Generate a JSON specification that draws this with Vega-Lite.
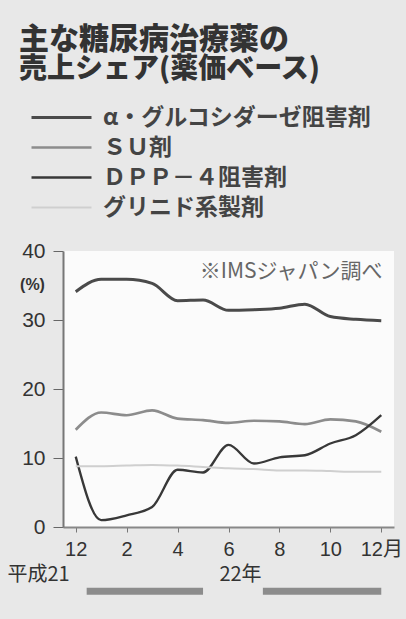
{
  "$schema": "https://vega.github.io/schema/vega-lite/v6.json",
  "width": 331,
  "height": 276,
  "autosize": {"type": "none"},
  "padding": {"left": 63, "top": 251, "right": 12, "bottom": 92},
  "background": "#e8e8e8",
  "config": {
    "view": {"fill": "#fbfbfb", "stroke": null},
    "font": "Noto Sans CJK JP",
    "legend": {
      "orient": "none",
      "legendX": -13,
      "legendY": -145,
      "title": null,
      "symbolType": "M-3,0H3",
      "symbolSize": 400,
      "labelFontSize": 23,
      "labelFont": "Noto Sans CJK JP",
      "labelFontWeight": "bold",
      "labelColor": "#444",
      "labelOffset": 30,
      "rowPadding": 6,
      "labelLimit": 400
    }
  },
  "title": {
    "text": "主な糖尿病治療薬の",
    "subtitle": "売上シェア(薬価ベース)",
    "anchor": "start",
    "frame": "group",
    "font": "Noto Sans CJK JP",
    "fontSize": 30,
    "fontWeight": 900,
    "color": "#333",
    "subtitleFont": "Noto Sans CJK JP",
    "subtitleFontSize": 28,
    "subtitleFontWeight": 900,
    "subtitleColor": "#333",
    "subtitlePadding": 1,
    "dx": -44,
    "offset": 22
  },
  "datasets": {
    "shares": [
      {"m": 0, "drug": "α・グルコシダーゼ阻害剤", "share": 34.1},
      {"m": 1, "drug": "α・グルコシダーゼ阻害剤", "share": 35.9},
      {"m": 2, "drug": "α・グルコシダーゼ阻害剤", "share": 35.9},
      {"m": 3, "drug": "α・グルコシダーゼ阻害剤", "share": 35.3},
      {"m": 4, "drug": "α・グルコシダーゼ阻害剤", "share": 32.8},
      {"m": 5, "drug": "α・グルコシダーゼ阻害剤", "share": 32.9},
      {"m": 6, "drug": "α・グルコシダーゼ阻害剤", "share": 31.4},
      {"m": 7, "drug": "α・グルコシダーゼ阻害剤", "share": 31.5},
      {"m": 8, "drug": "α・グルコシダーゼ阻害剤", "share": 31.7},
      {"m": 9, "drug": "α・グルコシダーゼ阻害剤", "share": 32.3},
      {"m": 10, "drug": "α・グルコシダーゼ阻害剤", "share": 30.5},
      {"m": 11, "drug": "α・グルコシダーゼ阻害剤", "share": 30.1},
      {"m": 12, "drug": "α・グルコシダーゼ阻害剤", "share": 29.9},
      {"m": 0, "drug": "ＳＵ剤", "share": 14.1},
      {"m": 1, "drug": "ＳＵ剤", "share": 16.6},
      {"m": 2, "drug": "ＳＵ剤", "share": 16.2},
      {"m": 3, "drug": "ＳＵ剤", "share": 16.9},
      {"m": 4, "drug": "ＳＵ剤", "share": 15.7},
      {"m": 5, "drug": "ＳＵ剤", "share": 15.5},
      {"m": 6, "drug": "ＳＵ剤", "share": 15.1},
      {"m": 7, "drug": "ＳＵ剤", "share": 15.4},
      {"m": 8, "drug": "ＳＵ剤", "share": 15.3},
      {"m": 9, "drug": "ＳＵ剤", "share": 14.9},
      {"m": 10, "drug": "ＳＵ剤", "share": 15.6},
      {"m": 11, "drug": "ＳＵ剤", "share": 15.3},
      {"m": 12, "drug": "ＳＵ剤", "share": 13.8},
      {"m": 0, "drug": "ＤＰＰ－４阻害剤", "share": 10.2},
      {"m": 1, "drug": "ＤＰＰ－４阻害剤", "share": 1.0},
      {"m": 2, "drug": "ＤＰＰ－４阻害剤", "share": 1.7},
      {"m": 3, "drug": "ＤＰＰ－４阻害剤", "share": 2.9},
      {"m": 4, "drug": "ＤＰＰ－４阻害剤", "share": 8.3},
      {"m": 5, "drug": "ＤＰＰ－４阻害剤", "share": 7.9},
      {"m": 6, "drug": "ＤＰＰ－４阻害剤", "share": 11.9},
      {"m": 7, "drug": "ＤＰＰ－４阻害剤", "share": 9.2},
      {"m": 8, "drug": "ＤＰＰ－４阻害剤", "share": 10.1},
      {"m": 9, "drug": "ＤＰＰ－４阻害剤", "share": 10.4},
      {"m": 10, "drug": "ＤＰＰ－４阻害剤", "share": 12.1},
      {"m": 11, "drug": "ＤＰＰ－４阻害剤", "share": 13.3},
      {"m": 12, "drug": "ＤＰＰ－４阻害剤", "share": 16.2},
      {"m": 0, "drug": "グリニド系製剤", "share": 8.8},
      {"m": 1, "drug": "グリニド系製剤", "share": 8.8},
      {"m": 2, "drug": "グリニド系製剤", "share": 8.9},
      {"m": 3, "drug": "グリニド系製剤", "share": 9.0},
      {"m": 4, "drug": "グリニド系製剤", "share": 8.9},
      {"m": 5, "drug": "グリニド系製剤", "share": 8.7},
      {"m": 6, "drug": "グリニド系製剤", "share": 8.5},
      {"m": 7, "drug": "グリニド系製剤", "share": 8.4},
      {"m": 8, "drug": "グリニド系製剤", "share": 8.2},
      {"m": 9, "drug": "グリニド系製剤", "share": 8.2},
      {"m": 10, "drug": "グリニド系製剤", "share": 8.1},
      {"m": 11, "drug": "グリニド系製剤", "share": 8.0},
      {"m": 12, "drug": "グリニド系製剤", "share": 8.0}
    ],
    "eras": [
      {"era": "平成21", "labelEnd": -0.24, "spanStart": 0.43, "spanEnd": 5.0},
      {"era": "22年", "labelEnd": 7.3, "spanStart": 7.35, "spanEnd": 12.0}
    ],
    "notes": [{"note": "※IMSジャパン調べ"}]
  },
  "layer": [
    {
      "data": {"name": "shares"},
      "mark": {"type": "line", "interpolate": "monotone"},
      "encoding": {
        "x": {
          "field": "m",
          "type": "quantitative",
          "scale": {"domain": [-0.5, 12.5], "nice": false, "zero": false},
          "axis": {
            "values": [0, 1, 2, 3, 4, 5, 6, 7, 8, 9, 10, 11, 12],
            "labelExpr": "datum.value == 0 ? '12' : datum.value == 12 ? '12月' : (datum.value % 2 == 0 ? '' + datum.value : '')",
            "title": null,
            "grid": false,
            "tickSize": 5,
            "tickColor": "#777",
            "labelFont": "Liberation Sans, Noto Sans CJK JP",
            "labelFontSize": 20,
            "labelColor": "#333",
            "labelPadding": 7,
            "labelFlush": false,
            "labelOverlap": false,
            "domainColor": "#888",
            "domainWidth": 2
          }
        },
        "y": {
          "field": "share",
          "type": "quantitative",
          "scale": {"domain": [0, 40], "nice": false},
          "axis": {
            "values": [0, 10, 20, 30, 40],
            "title": "(%)",
            "titleAngle": 0,
            "titleX": -31,
            "titleY": 33,
            "titleAlign": "center",
            "titleBaseline": "middle",
            "titleFont": "Liberation Sans",
            "titleFontSize": 16,
            "titleFontWeight": "bold",
            "titleColor": "#333",
            "grid": false,
            "tickSize": 10,
            "tickColor": "#666",
            "labelFont": "Liberation Sans",
            "labelFontSize": 21,
            "labelColor": "#333",
            "labelPadding": 8,
            "domainColor": "#777",
            "domainWidth": 2
          }
        },
        "color": {
          "field": "drug",
          "type": "nominal",
          "scale": {
            "domain": ["α・グルコシダーゼ阻害剤", "ＳＵ剤", "ＤＰＰ－４阻害剤", "グリニド系製剤"],
            "range": ["#4a4a4a", "#8c8c8c", "#383838", "#cfcfcf"]
          }
        },
        "strokeWidth": {
          "field": "drug",
          "type": "nominal",
          "scale": {
            "domain": ["α・グルコシダーゼ阻害剤", "ＳＵ剤", "ＤＰＰ－４阻害剤", "グリニド系製剤"],
            "range": [3, 2, 5, 2.5]
          }
        }
      }
    },
    {
      "data": {"name": "notes"},
      "mark": {"type": "text", "align": "right", "baseline": "middle", "fontSize": 21, "color": "#666", "font": "Noto Sans CJK JP"},
      "encoding": {
        "text": {"field": "note"},
        "x": {"datum": 12.05},
        "y": {"datum": 37.0}
      }
    },
    {
      "data": {"name": "eras"},
      "mark": {"type": "rule", "strokeWidth": 7, "color": "#8c8c8c"},
      "encoding": {
        "x": {"field": "spanStart", "type": "quantitative"},
        "x2": {"field": "spanEnd"},
        "y": {"datum": -9.3}
      }
    },
    {
      "data": {"name": "eras"},
      "mark": {"type": "text", "align": "right", "baseline": "middle", "fontSize": 20, "color": "#333", "font": "Noto Sans CJK JP"},
      "encoding": {
        "text": {"field": "era"},
        "x": {"field": "labelEnd", "type": "quantitative"},
        "y": {"datum": -7}
      }
    }
  ]
}
